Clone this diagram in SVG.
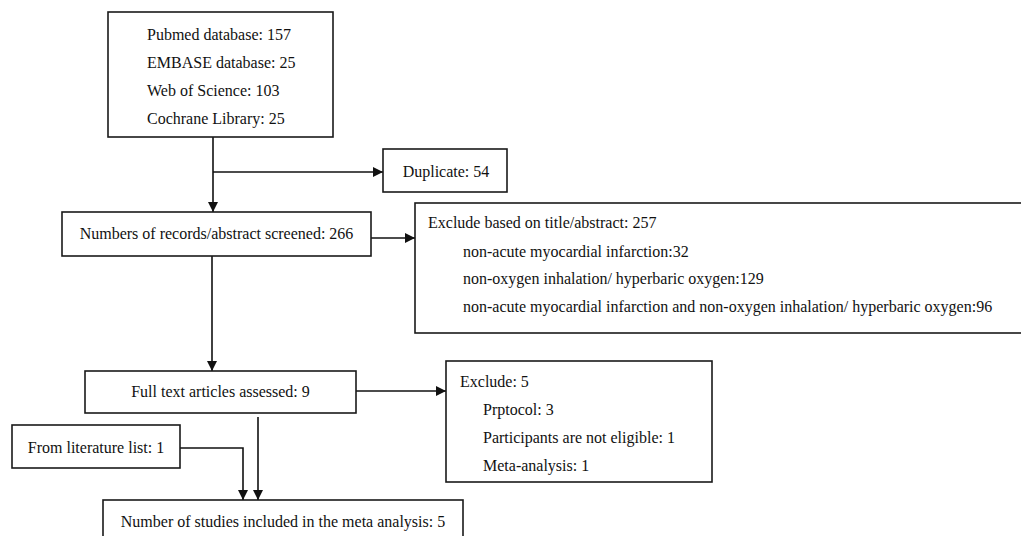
<svg xmlns="http://www.w3.org/2000/svg" width="1021" height="536" viewBox="0 0 1021 536">
<style>
.box{fill:#fff;stroke:#1a1a1a;stroke-width:1.6}
.t{font-family:"Liberation Serif","Times New Roman",serif;font-size:16px;fill:#111}
.c{text-anchor:middle}
.ln{fill:none;stroke:#111;stroke-width:1.6}
</style>
<defs>
<marker id="ah" viewBox="0 0 10 10" refX="10" refY="5" markerWidth="10" markerHeight="10" markerUnits="userSpaceOnUse" orient="auto">
<path d="M0,0 L10,5 L0,10 z" fill="#111"/>
</marker>
</defs>
<rect width="1021" height="536" fill="#fff"/>
<g id="connectors">
<path class="ln" d="M213,137 V212" marker-end="url(#ah)"/>
<path class="ln" d="M213,172 H383" marker-end="url(#ah)"/>
<path class="ln" d="M371,238 H415" marker-end="url(#ah)"/>
<path class="ln" d="M212,256 V371" marker-end="url(#ah)"/>
<path class="ln" d="M356,391 H446" marker-end="url(#ah)"/>
<path class="ln" d="M258,417 V500" marker-end="url(#ah)"/>
<path class="ln" d="M180,448 H243 V500" marker-end="url(#ah)"/>
</g>
<g id="sources">
<rect class="box" x="108" y="12" width="225" height="125"/>
<text class="t" x="147" y="40">Pubmed database: 157</text>
<text class="t" x="147" y="68">EMBASE database: 25</text>
<text class="t" x="147" y="96">Web of Science: 103</text>
<text class="t" x="147" y="124">Cochrane Library: 25</text>
</g>
<g id="duplicate">
<rect class="box" x="383" y="149" width="124" height="43"/>
<text class="t c" x="446" y="177">Duplicate: 54</text>
</g>
<g id="screened">
<rect class="box" x="62" y="212" width="309" height="44"/>
<text class="t c" x="216.5" y="239">Numbers of records/abstract screened: 266</text>
</g>
<g id="exclude-title">
<rect class="box" x="415" y="203" width="620" height="130"/>
<text class="t" x="428" y="228">Exclude based on title/abstract: 257</text>
<text class="t" x="463" y="257">non-acute myocardial infarction:32</text>
<text class="t" x="463" y="284">non-oxygen inhalation/ hyperbaric oxygen:129</text>
<text class="t" x="463" y="312">non-acute myocardial infarction and non-oxygen inhalation/ hyperbaric oxygen:96</text>
</g>
<g id="fulltext">
<rect class="box" x="85" y="371" width="271" height="42"/>
<text class="t c" x="220.5" y="397">Full text articles assessed: 9</text>
</g>
<g id="exclude-full">
<rect class="box" x="446" y="361" width="266" height="121"/>
<text class="t" x="460" y="387">Exclude: 5</text>
<text class="t" x="483" y="415">Prptocol: 3</text>
<text class="t" x="483" y="443">Participants are not eligible: 1</text>
<text class="t" x="483" y="471">Meta-analysis: 1</text>
</g>
<g id="literature">
<rect class="box" x="12" y="425" width="168" height="43"/>
<text class="t c" x="96" y="453">From literature list: 1</text>
</g>
<g id="included">
<rect class="box" x="103" y="500" width="360" height="50"/>
<text class="t c" x="283" y="527">Number of studies included in the meta analysis: 5</text>
</g>
</svg>
